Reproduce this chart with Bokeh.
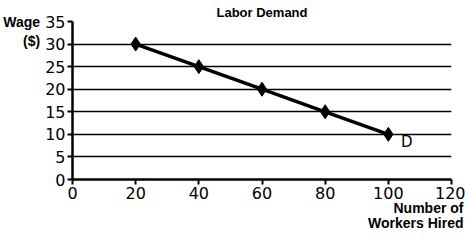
from bokeh.plotting import figure
from bokeh.models import Range1d, Label, FixedTicker, Title
from bokeh.embed import file_html
from bokeh.resources import INLINE

workers = [20, 40, 60, 80, 100]
wage = [30, 25, 20, 15, 10]
x_ticks = [0, 20, 40, 60, 80, 100, 120]
y_ticks = [0, 5, 10, 15, 20, 25, 30, 35]

FONT = "DejaVu Sans"
BFONT = "Liberation Sans"

p = figure(width=465, height=248, output_backend="svg", toolbar_location=None,
           x_range=Range1d(0, 120), y_range=Range1d(0, 35),
           min_border_left=72, min_border_right=14, min_border_top=21, min_border_bottom=69)
p.outline_line_color = None
p.background_fill_color = "white"
p.border_fill_color = "white"

p.title.text = "Labor Demand"
p.title.align = "center"
p.title.vertical_align = "top"
p.title.text_font = BFONT
p.title.text_font_size = "13px"
p.title.text_font_style = "bold"
p.title.text_color = "black"
p.title.text_line_height = 0.9
p.title.standoff = 0

p.xaxis.ticker = FixedTicker(ticks=x_ticks)
p.yaxis.ticker = FixedTicker(ticks=y_ticks)
for ax in (p.xaxis[0], p.yaxis[0]):
    ax.axis_line_width = 2.5
    ax.axis_line_color = "black"
    ax.major_tick_line_width = 2
    ax.major_tick_line_color = "black"
    ax.major_tick_out = 5
    ax.major_tick_in = 0
    ax.minor_tick_line_color = None
    ax.major_label_text_font = FONT
    ax.major_label_text_font_size = "16px"
    ax.major_label_text_color = "black"
    ax.axis_label_text_font = BFONT
    ax.axis_label_text_font_size = "14px"
    ax.axis_label_text_font_style = "bold"
    ax.axis_label_text_color = "black"
    ax.axis_label_text_line_height = 1.2
p.xaxis.major_label_standoff = 2
p.yaxis.major_label_standoff = 2

p.yaxis.axis_label = "\nWage\n($)"
p.yaxis.axis_label_orientation = "horizontal"
p.yaxis.axis_label_align = "end"
p.yaxis.axis_label_standoff = 2

p.xgrid.grid_line_color = None
p.ygrid.grid_line_color = "black"
p.ygrid.grid_line_width = 1.5
p.ygrid.grid_line_alpha = 1.0

p.line(workers, wage, line_color="black", line_width=3.5)
p.scatter(workers, wage, marker="diamond", size=14, fill_color="black", line_color="black")

p.add_layout(Label(x=104, y=8.3, text="D", text_font=FONT, text_font_size="15px",
                   text_align="left", text_baseline="middle", text_color="black"))

for line_text, so in [("Number of", -8), ("Workers Hired", 2)]:
    t = Title(text=line_text, align="right", offset=-12, standoff=so,
              text_font=BFONT, text_font_size="14px", text_font_style="bold",
              text_color="black", text_line_height=1.15)
    p.add_layout(t, "below")

open("out.html", "w").write(file_html(p, INLINE))
